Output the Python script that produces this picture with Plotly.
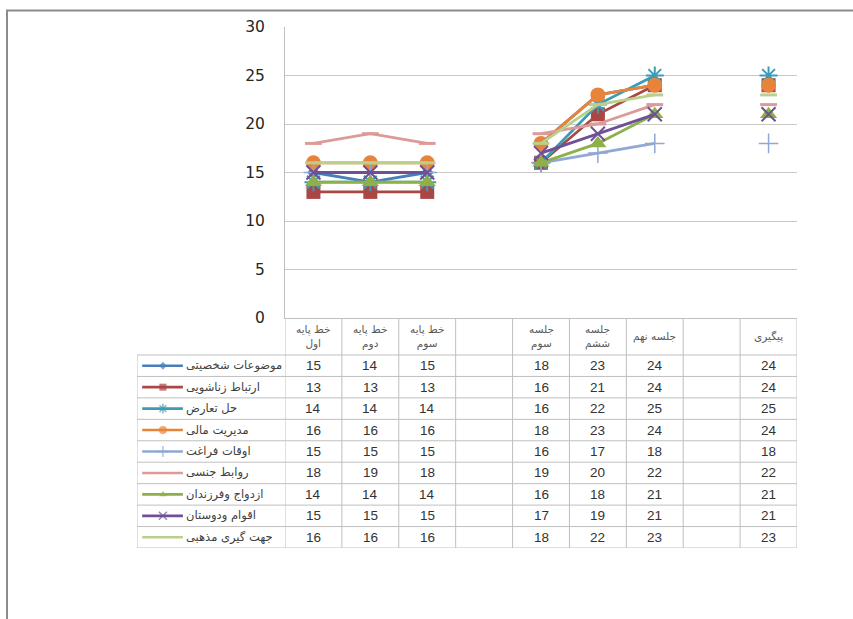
import plotly.graph_objects as go

# ---------------- data ----------------
categories = ["خط پایه<br>اول", "خط پایه<br>دوم", "خط پایه<br>سوم", "",
              "جلسه<br>سوم", "جلسه<br>ششم", "جلسه نهم", "", "پیگیری"]

series_names = ["موضوعات شخصیتی", "ارتباط زناشویی", "حل تعارض", "مدیریت مالی",
                "اوقات فراغت", "روابط جنسی", "ازدواج وفرزندان", "اقوام ودوستان",
                "جهت گیری مذهبی"]

personal   = [15, 14, 15, None, 18, 23, 24, None, 24]
marital    = [13, 13, 13, None, 16, 21, 24, None, 24]
conflict   = [14, 14, 14, None, 16, 22, 25, None, 25]
financial  = [16, 16, 16, None, 18, 23, 24, None, 24]
leisure    = [15, 15, 15, None, 16, 17, 18, None, 18]
sexual     = [18, 19, 18, None, 19, 20, 22, None, 22]
children   = [14, 14, 14, None, 16, 18, 21, None, 21]
relatives  = [15, 15, 15, None, 17, 19, 21, None, 21]
religious  = [16, 16, 16, None, 18, 22, 23, None, 23]

series_values = [personal, marital, conflict, financial, leisure,
                 sexual, children, relatives, religious]

y_ticks = [0, 5, 10, 15, 20, 25, 30]

# ---------------- styles ----------------
colors = ["#4A7EBB", "#AA4643", "#3E9BB5", "#E8843A", "#8FA8D4",
          "#DC9A98", "#8DB048", "#6F5096", "#B8D08C"]
symbols = ["diamond", "square", "asterisk-open", "circle", "cross-thin-open",
           "line-ew-open", "triangle-up", "x-thin-open", "line-ew-open"]
sizes = [10, 14, 15, 15, 14, 12, 15, 14, 12]
leg_sizes = [6, 7, 8, 8, 8, 8, 7, 8, 8]
mline = [0, 0, 2, 0, 1.5, 3, 0, 2, 3]

W, H = 853, 619
HEADER = 37 / 21.44
grid_col = "#BFBFBF"

fig = go.Figure()

xs = list(range(len(categories)))
for i, (name, vals) in enumerate(zip(series_names, series_values)):
    fig.add_trace(go.Scatter(
        x=xs, y=vals, mode="lines+markers", name=name,
        line=dict(color=colors[i], width=2.8),
        marker=dict(symbol=symbols[i], size=sizes[i], color=colors[i],
                    line=dict(color=colors[i], width=mline[i])),
        connectgaps=False, xaxis="x", yaxis="y", showlegend=False,
        hoverinfo="skip"))

# legend samples inside the table's first column
for i, name in enumerate(series_names):
    fig.add_trace(go.Scatter(
        x=[0.035, 0.175, 0.31], y=[i + 0.5] * 3, mode="lines+markers",
        line=dict(color=colors[i], width=2.6),
        marker=dict(symbol=symbols[i], size=[0, leg_sizes[i], 0], color=colors[i],
                    line=dict(color=colors[i], width=min(mline[i], 1.5) if mline[i] else 0)),
        xaxis="x2", yaxis="y2", showlegend=False, hoverinfo="skip"))

shapes = []
annotations = []

# outer frame
shapes.append(dict(type="line", xref="paper", yref="paper",
                   x0=6 / W, x1=1, y0=1 - 10.5 / H, y1=1 - 10.5 / H,
                   line=dict(color="#8C8C8C", width=2)))
shapes.append(dict(type="line", xref="paper", yref="paper",
                   x0=7 / W, x1=7 / W, y0=0, y1=1 - 10 / H,
                   line=dict(color="#8C8C8C", width=2)))

# table vertical lines
for k in range(len(categories) + 1):
    shapes.append(dict(type="line", xref="x", yref="y2",
                       x0=k - 0.5, x1=k - 0.5, y0=-HEADER, y1=9,
                       line=dict(color=grid_col, width=1)))
shapes.append(dict(type="line", xref="x2", yref="y2", x0=0, x1=0, y0=0, y1=9,
                   line=dict(color=grid_col, width=1)))
# table horizontal lines
for r in range(len(series_names) + 1):
    shapes.append(dict(type="line", xref="x2", yref="y2", x0=0, x1=1, y0=r, y1=r,
                       line=dict(color=grid_col, width=1)))
    shapes.append(dict(type="line", xref="x", yref="y2", x0=-0.5, x1=len(categories) - 0.5,
                       y0=r, y1=r, line=dict(color=grid_col, width=1)))

# header
for j, c in enumerate(categories):
    if c:
        annotations.append(dict(xref="x", yref="y2", x=j, y=-HEADER / 2, text=c,
                                showarrow=False, align="center",
                                font=dict(family="DejaVu Sans", size=10.5, color="#595959")))
# legend labels (placed right after the key sample)
for i, name in enumerate(series_names):
    annotations.append(dict(xref="x2", yref="y2", x=0.318, y=i + 0.5, text=name,
                            xanchor="left", showarrow=False,
                            font=dict(family="DejaVu Sans", size=11.5, color="#404040")))
# cell values
for i, vals in enumerate(series_values):
    for j, v in enumerate(vals):
        if v is not None:
            annotations.append(dict(xref="x", yref="y2", x=j, y=i + 0.5, text=str(v),
                                    showarrow=False,
                                    font=dict(family="Liberation Sans", size=13.5, color="#333333")))

fig.update_layout(
    template="none",
    width=W, height=H, autosize=False,
    margin=dict(l=0, r=0, t=0, b=0, pad=0),
    paper_bgcolor="white", plot_bgcolor="white",
    xaxis=dict(domain=[285 / W, 797 / W], range=[-0.5, len(categories) - 0.5],
               showticklabels=False, showgrid=False, zeroline=False, ticks="",
               showline=True, linecolor=grid_col, linewidth=1, anchor="y",
               automargin=False, fixedrange=True),
    yaxis=dict(domain=[1 - 318 / H, 1 - 27 / H], range=[0, 30], tickvals=y_ticks,
               showgrid=True, gridcolor="#C8C8C8", gridwidth=1, zeroline=False,
               showline=True, linecolor=grid_col, linewidth=1, anchor="x",
               ticks="", ticklabelstandoff=16, automargin=False,
               tickfont=dict(family="DejaVu Sans", size=15.5, color="#262626")),
    xaxis2=dict(domain=[137 / W, 285 / W], range=[0, 1], visible=False, anchor="y2",
                automargin=False),
    yaxis2=dict(domain=[1 - 548 / H, 1 - 318 / H], range=[9, -HEADER], visible=False,
                anchor="x2", automargin=False),
    shapes=shapes, annotations=annotations,
)

fig.write_html("out.html")
